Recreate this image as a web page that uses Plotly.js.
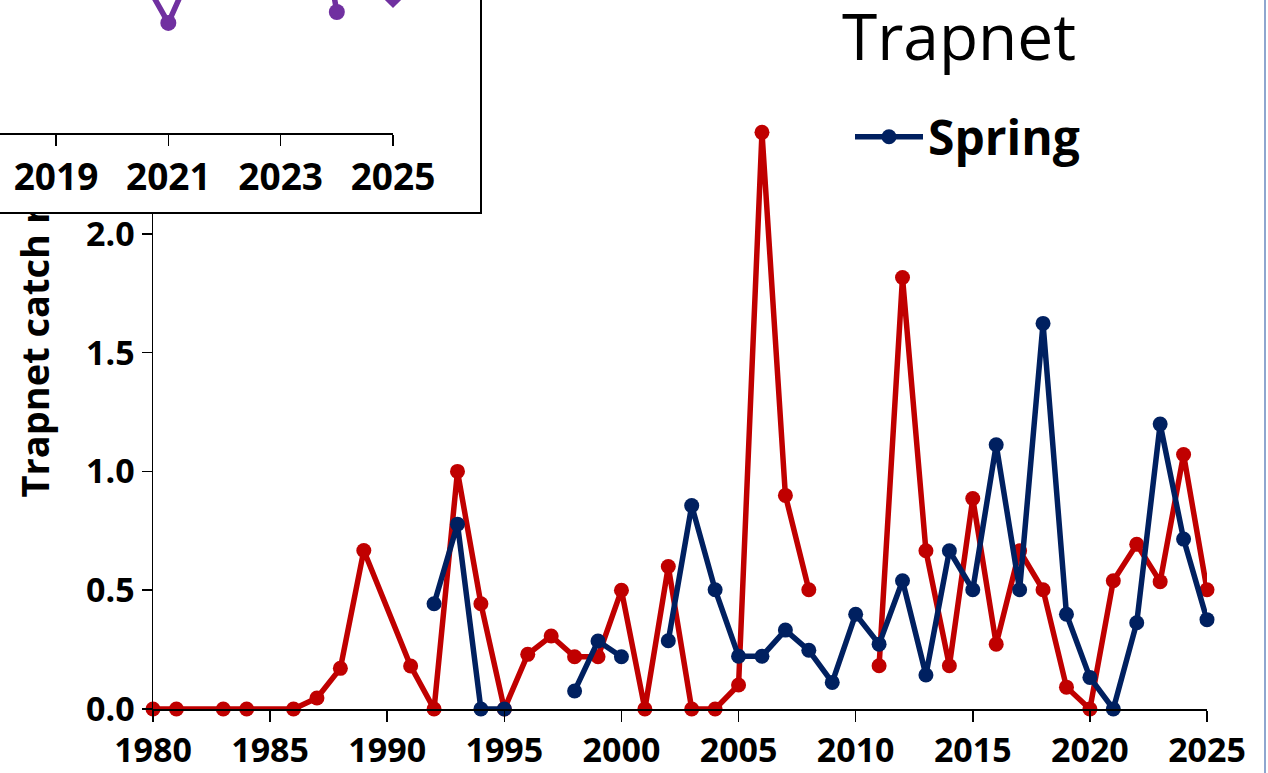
<!DOCTYPE html>
<html>
<head>
<meta charset="utf-8">
<script src="https://cdn.plot.ly/plotly-3.0.1.min.js"></script>
<style>
  html, body { margin:0; padding:0; width:1268px; height:773px; overflow:hidden; background:#fff; }
  #main { position:absolute; left:0; top:0; width:1268px; height:773px; }
  #insetBox { position:absolute; left:-600px; top:-400px; width:1082px; height:614px; box-sizing:border-box; border:2px solid #000; background:#fff; }
  #inset { width:1078px; height:610px; }
  #edge { position:absolute; left:1264px; top:0; width:2px; height:773px; background:#8ea6cf; }
</style>
</head>
<body>
<div id="main"></div>
<div id="insetBox"><div id="inset"></div></div>
<div id="edge"></div>
<script>
// Fall (red) series
const fallYears = [1980,1981,1983,1984,1986,1987,1988,1989,1991,1992,1993,1994,1995,1996,1997,1998,1999,2000,2001,2002,2003,2004,2005,2006,2007,2008,2009,2010,2011,2012,2013,2014,2015,2016,2017,2018,2019,2020,2021,2022,2023,2024,2025];
const fallValues = [0,0,0,0,0,0.046,0.171,0.667,0.181,0,1.0,0.443,0,0.230,0.307,0.220,0.220,0.500,0,0.600,0,0,0.101,2.427,0.899,0.502,null,null,0.182,1.816,0.666,0.182,0.886,0.273,0.666,0.502,0.092,0,0.540,0.693,0.536,1.071,0.502];

// Spring (navy) series
const springYears = [1992,1993,1994,1995,1996,1997,1998,1999,2000,2001,2002,2003,2004,2005,2006,2007,2008,2009,2010,2011,2012,2013,2014,2015,2016,2017,2018,2019,2020,2021,2022,2023,2024,2025];
const springValues = [0.443,0.778,0,0,null,null,0.076,0.286,0.220,null,0.287,0.856,0.502,0.222,0.222,0.332,0.247,0.112,0.399,0.273,0.540,0.143,0.666,0.502,1.112,0.502,1.623,0.399,0.133,0,0.363,1.199,0.715,0.376];

// Inset (purple) series
const insetYears = [2019,2020,2021,2022,2023,2024];
const insetValues = [1.5,1.09,0.572,1.23,2.3,0.629];
const insetDiamondYears = [2025];
const insetDiamondValues = [0.71];

const xTickVals = [1980,1985,1990,1995,2000,2005,2010,2015,2020,2025];
const yTickVals = [0,0.5,1.0,1.5,2.0,2.5];
const yTickText = ['0.0','0.5','1.0','1.5','2.0','2.5'];
const insetTickVals = [2019,2021,2023,2025];

const FONT = 'Open Sans, Noto Sans, sans-serif';
const RED = '#C00000', NAVY = '#002060', PURPLE = '#7030A0';

const mainTraces = [
  { x: fallYears, y: fallValues, name: 'Fall', type: 'scatter', mode: 'lines+markers',
    line: {color: RED, width: 5.5}, marker: {color: RED, size: 15}, showlegend: false, cliponaxis: false, connectgaps: false },
  { x: springYears, y: springValues, name: 'Spring', type: 'scatter', mode: 'lines+markers',
    line: {color: NAVY, width: 5.5}, marker: {color: NAVY, size: 15}, cliponaxis: false, connectgaps: false }
];

const mainLayout = {
  width: 1268, height: 773,
  margin: {l:153, r:61, t:115, b:64, pad:0},
  paper_bgcolor: '#fff', plot_bgcolor: '#fff',
  font: {family: FONT, color: '#000'},
  title: { text: 'Trapnet', font: {family: FONT, size: 64, color: '#000'},
           xref: 'container', x: 959/1268, xanchor: 'center',
           yref: 'container', y: 0.981, yanchor: 'top', pad: {t:0,b:0,l:0,r:0} },
  xaxis: { range: [1980, 2025], tickmode: 'array', tickvals: xTickVals,
           ticks: 'outside', ticklen: 11, tickwidth: 1.5, tickcolor: '#000',
           showline: true, linecolor: '#000', linewidth: 1.5, showgrid: false, zeroline: false,
           tickfont: {family: FONT, size: 34, color: '#000', weight: 'bold'} },
  yaxis: { range: [0, 2.5], tickmode: 'array', tickvals: yTickVals, ticktext: yTickText,
           ticks: 'outside', ticklen: 10, tickwidth: 1.5, tickcolor: '#000',
           showline: true, linecolor: '#000', linewidth: 1.5, showgrid: false, zeroline: false,
           tickfont: {family: FONT, size: 34, color: '#000', weight: 'bold'} },
  legend: { x: (850-153)/1054, xanchor: 'left', y: (709-137)/594, yanchor: 'middle',
            bgcolor: 'rgba(0,0,0,0)', borderwidth: 0, itemwidth: 68,
            font: {family: FONT, size: 48, color: '#000', weight: 'bold'} },
  annotations: [
    { text: 'Trapnet catch rate', textangle: -90, showarrow: false,
      xref: 'paper', x: (33-153)/1054, xanchor: 'center',
      yref: 'paper', y: (709-500)/594, yanchor: 'bottom',
      font: {family: FONT, size: 38, color: '#000', weight: 'bold'} }
  ]
};

const insetTraces = [
  { x: insetYears, y: insetValues, name: 'Inset', type: 'scatter', mode: 'lines+markers',
    line: {color: PURPLE, width: 5.5}, marker: {color: PURPLE, size: 16}, showlegend: false, cliponaxis: false },
  { x: insetDiamondYears, y: insetDiamondValues, name: 'Inset 2', type: 'scatter', mode: 'markers',
    marker: {color: PURPLE, size: 18, symbol: 'diamond'}, showlegend: false, cliponaxis: false }
];

const insetLayout = {
  width: 1078, height: 610,
  margin: {l:317, r:87, t:50, b:79, pad:0},
  paper_bgcolor: '#fff', plot_bgcolor: '#fff',
  font: {family: FONT, color: '#000'},
  showlegend: false,
  xaxis: { range: [2013, 2025], tickmode: 'array', tickvals: insetTickVals,
           ticks: 'outside', ticklen: 11, tickwidth: 1.5, tickcolor: '#000',
           showline: true, linecolor: '#000', linewidth: 1.5, showgrid: false, zeroline: false,
           tickfont: {family: FONT, size: 37, color: '#000', weight: 'bold'} },
  yaxis: { range: [0, 2.5], showline: true, linecolor: '#000', linewidth: 1.5,
           ticks: 'outside', showgrid: false, zeroline: false, showticklabels: false }
};

Plotly.newPlot('main', mainTraces, mainLayout, {staticPlot: true, displayModeBar: false});
Plotly.newPlot('inset', insetTraces, insetLayout, {staticPlot: true, displayModeBar: false});
</script>
</body>
</html>
